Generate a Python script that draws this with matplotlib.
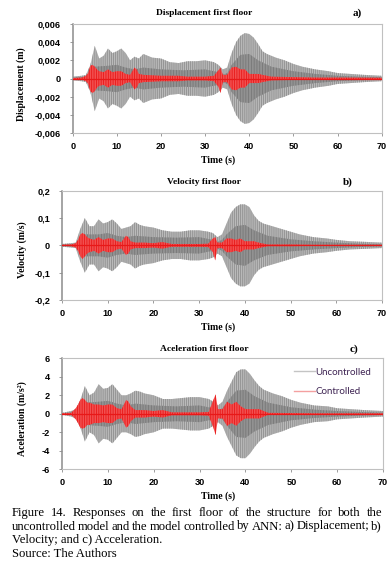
import matplotlib
matplotlib.use("Agg")
import matplotlib.pyplot as plt
import numpy as np

W, H = 392, 566

# ---------------- data (envelopes) ----------------
T = [0, 2, 3, 4, 5, 6, 7, 8, 9, 10, 11, 12, 13, 14, 15, 16, 17, 18, 20, 22, 24, 26,
     28, 30, 32, 33, 34, 35, 36, 37, 38, 39, 40, 41, 42, 43, 44, 46, 48, 50, 52, 55,
     58, 60, 63, 66, 70]
T_core = [0, 3, 4, 5, 8, 10, 12, 14, 16, 20, 25, 30, 33, 34, 35, 36, 38, 40, 42, 45,
          50, 55, 60, 65, 70]
Tc = [0, 2, 3, 3.5, 4, 4.5, 5, 5.5, 6, 7, 8, 9, 10, 11, 12, 13, 14, 14.5, 15, 16,
      18, 20, 22, 24, 26, 28, 30, 32, 33, 33.5, 34, 35, 36, 37, 38, 39, 40, 42, 43, 45,
      50, 55, 60, 70]

# displacement (m)
disp_unc = [0.0002, 0.0003, 0.0004, 0.0015, 0.0036, 0.0022, 0.0025, 0.0033, 0.0028, 0.0030,
            0.0033, 0.0028, 0.0020, 0.0024, 0.0022, 0.0027, 0.0025, 0.0023, 0.0022, 0.0018,
            0.0017, 0.0019, 0.0019, 0.0020, 0.0018, 0.0015, 0.0010, 0.0012, 0.0028, 0.0040,
            0.0047, 0.0050, 0.0049, 0.0045, 0.0038, 0.0030, 0.0027, 0.0023, 0.0020, 0.0016,
            0.0013, 0.0010, 0.0008, 0.0006, 0.0005, 0.0004, 0.0003]
disp_core = [0.0001, 0.0002, 0.0008, 0.0013, 0.0014, 0.0015, 0.0012, 0.0010, 0.0012, 0.0010,
             0.0009, 0.0010, 0.0007, 0.0004, 0.0006, 0.0015, 0.0026, 0.0027, 0.0020, 0.0013,
             0.0008, 0.0005, 0.0003, 0.0002, 0.00015]
disp_ctl_up = [0.00005, 0.0001, 0.0003, 0.0006, 0.0014, 0.0015, 0.0013, 0.0010, 0.0008, 0.0007,
               0.0010, 0.0007, 0.0008, 0.0008, 0.0005, 0.0004, 0.0012, 0.0010, 0.0005, 0.0004,
               0.00035, 0.0003, 0.0003, 0.0003, 0.0002, 0.0002, 0.0002, 0.0003, 0.0009, 0.0012,
               0.0004, 0.0004, 0.0012, 0.0013, 0.0010, 0.0010, 0.0005, 0.0005, 0.0004, 0.0002,
               0.00015, 0.0001, 0.0001, 0.00008]
disp_ctl_lo = [0.00005, 0.0001, 0.0003, 0.0006, 0.0014, 0.0016, 0.0014, 0.0010, 0.0008, 0.0007,
               0.0010, 0.0007, 0.0008, 0.0008, 0.0005, 0.0004, 0.0012, 0.0010, 0.0005, 0.0004,
               0.00035, 0.0003, 0.0003, 0.0003, 0.0002, 0.0002, 0.0002, 0.0003, 0.0009, 0.0016,
               0.0004, 0.0004, 0.0012, 0.0013, 0.0010, 0.0010, 0.0005, 0.0005, 0.0004, 0.0002,
               0.00015, 0.0001, 0.0001, 0.00008]

# velocity (m/s)
vel_unc = [0.005, 0.008, 0.010, 0.06, 0.10, 0.07, 0.07, 0.095, 0.08, 0.085,
           0.095, 0.08, 0.06, 0.065, 0.07, 0.085, 0.075, 0.07, 0.065, 0.055,
           0.05, 0.05, 0.055, 0.055, 0.05, 0.045, 0.03, 0.04, 0.08, 0.12,
           0.14, 0.15, 0.15, 0.14, 0.11, 0.09, 0.08, 0.07, 0.06, 0.05,
           0.04, 0.03, 0.025, 0.02, 0.015, 0.013, 0.010]
vel_core = [0.003, 0.005, 0.03, 0.04, 0.04, 0.045, 0.035, 0.03, 0.035, 0.03,
            0.028, 0.03, 0.02, 0.012, 0.02, 0.04, 0.07, 0.075, 0.055, 0.035,
            0.022, 0.015, 0.01, 0.006, 0.004]
vel_ctl_up = [0.002, 0.003, 0.008, 0.02, 0.04, 0.045, 0.04, 0.03, 0.025, 0.02,
              0.03, 0.02, 0.025, 0.025, 0.015, 0.012, 0.035, 0.03, 0.015, 0.010,
              0.010, 0.008, 0.012, 0.005, 0.005, 0.005, 0.005, 0.006, 0.025, 0.03,
              0.010, 0.010, 0.025, 0.025, 0.02, 0.025, 0.015, 0.015, 0.010, 0.003,
              0.003, 0.002, 0.002, 0.002]
vel_ctl_lo = [0.002, 0.003, 0.008, 0.02, 0.04, 0.05, 0.04, 0.03, 0.025, 0.02,
              0.03, 0.02, 0.025, 0.025, 0.015, 0.012, 0.035, 0.03, 0.015, 0.010,
              0.010, 0.008, 0.012, 0.005, 0.005, 0.005, 0.005, 0.006, 0.025, 0.055,
              0.010, 0.010, 0.025, 0.025, 0.02, 0.025, 0.015, 0.015, 0.010, 0.003,
              0.003, 0.002, 0.002, 0.002]

# acceleration (m/s2)
acc_unc = [0.1, 0.3, 0.5, 1.5, 3.0, 2.0, 2.3, 3.2, 2.7, 2.8,
           3.2, 2.6, 2.0, 2.0, 2.2, 2.5, 2.4, 2.2, 2.0, 1.6,
           1.6, 1.7, 1.8, 1.8, 1.6, 1.3, 0.9, 1.3, 2.5, 3.5,
           4.5, 4.8, 4.8, 4.3, 3.6, 3.0, 2.6, 2.2, 1.9, 1.5,
           1.2, 0.9, 0.8, 0.6, 0.5, 0.4, 0.3]
acc_core = [0.05, 0.2, 0.8, 1.2, 1.3, 1.4, 1.1, 0.9, 1.1, 0.9,
            0.8, 0.9, 0.6, 0.4, 0.6, 1.3, 2.5, 2.6, 1.9, 1.2,
            0.7, 0.45, 0.3, 0.2, 0.12]
acc_ctl_up = [0.05, 0.1, 0.6, 1.0, 1.5, 1.7, 1.5, 1.2, 1.2, 1.0,
              1.0, 0.9, 1.0, 1.0, 0.6, 0.5, 1.5, 1.3, 0.8, 0.4,
              0.4, 0.3, 0.4, 0.15, 0.15, 0.15, 0.15, 0.2, 1.5, 2.1,
              0.5, 0.5, 1.3, 1.0, 1.3, 0.8, 0.5, 0.5, 0.5, 0.1,
              0.08, 0.05, 0.05, 0.05]
acc_ctl_lo = [0.05, 0.1, 0.6, 1.0, 1.5, 1.6, 1.5, 1.2, 1.2, 1.0,
              1.0, 0.9, 1.0, 1.0, 0.6, 0.5, 1.5, 1.3, 0.8, 0.4,
              0.4, 0.3, 0.4, 0.15, 0.15, 0.15, 0.15, 0.2, 1.5, 2.3,
              0.5, 0.5, 1.3, 1.0, 1.3, 0.8, 0.5, 0.5, 0.5, 0.1,
              0.08, 0.05, 0.05, 0.05]

x_ticks = [0, 10, 20, 30, 40, 50, 60, 70]
disp_ticks = [-0.006, -0.004, -0.002, 0, 0.002, 0.004, 0.006]
disp_labels = ['-0,006', '-0,004', '-0,002', '0', '0,002', '0,004', '0,006']
vel_ticks = [-0.2, -0.1, 0, 0.1, 0.2]
vel_labels = ['-0,2', '-0,1', '0', '0,1', '0,2']
acc_ticks = [-6, -4, -2, 0, 2, 4, 6]
acc_labels = ['-6', '-4', '-2', '0', '2', '4', '6']

titles = ['Displacement first floor', 'Velocity first floor', 'Aceleration first floor']
letters = ['a)', 'b)', 'c)']
ylabels = ['Displacement (m)', 'Velocity (m/s)', 'Aceleration (m/s²)']
legend_labels = ['Uncontrolled', 'Controlled']

caption = [
    "Figure 14. Responses on the first floor of the structure for both the",
    "uncontrolled model and the model controlled by ANN: a) Displacement; b)",
    "Velocity; and c) Acceleration.",
    "Source: The Authors",
]

# ---------------- style ----------------
C_OUT = '#bababa'
C_OUT_H = '#8e8e8e'
C_CORE = '#929292'
C_CORE_H = '#777777'
C_RED_F = '#f25050'
C_RED = '#e81818'
FRAME = '#c0c0c0'
FRAME_L = '#8c8c8c'
SERIF = 'Liberation Serif'
SANS = 'Liberation Sans'
plt.rcParams['hatch.linewidth'] = 0.6

fig = plt.figure(figsize=(W / 100, H / 100), dpi=100)


def px(x, y):
    return x / W, 1 - y / H


def add_axes(l, r, t, b):
    return fig.add_axes([l / W, 1 - b / H, (r - l) / W, (b - t) / H])


panels = [
    dict(box=(72.7, 381.7, 24, 133), unc=disp_unc, core=disp_core, up=disp_ctl_up, lo=disp_ctl_lo,
         ticks=disp_ticks, labels=disp_labels, title_y=13, let_x=357, yl=(21, 84), xl_y=160),
    dict(box=(62, 382, 190.7, 300), unc=vel_unc, core=vel_core, up=vel_ctl_up, lo=vel_ctl_lo,
         ticks=vel_ticks, labels=vel_labels, title_y=181.7, let_x=348, yl=(22, 250), xl_y=327),
    dict(box=(62, 383, 358.3, 469.3), unc=acc_unc, core=acc_core, up=acc_ctl_up, lo=acc_ctl_lo,
         ticks=acc_ticks, labels=acc_labels, title_y=349, let_x=353.5, yl=(22, 419), xl_y=496),
]

for i, p in enumerate(panels):
    ax = add_axes(*p['box'])
    u = np.array(p['unc'])
    c = np.array(p['core'])
    ax.fill_between(T, -u, u, facecolor=C_OUT, edgecolor=C_OUT_H, hatch='||||||||', lw=0, zorder=1)
    ax.fill_between(T_core, -c, c, facecolor=C_CORE, edgecolor=C_CORE_H, hatch='||||||', lw=0, zorder=2)
    ax.fill_between(Tc, -np.array(p['lo']), np.array(p['up']), facecolor=C_RED_F,
                    edgecolor=C_RED, hatch='|||||||', lw=0, zorder=3)
    ax.plot([0, 70], [0, 0], color=C_RED, lw=0.9, zorder=4)
    ax.set_xlim(0, 70)
    ax.set_ylim(p['ticks'][0], p['ticks'][-1])
    ax.set_xticks(x_ticks)
    ax.set_xticklabels([str(v) for v in x_ticks])
    ax.set_yticks(p['ticks'])
    ax.set_yticklabels(p['labels'])
    for s in ax.spines.values():
        s.set_color(FRAME)
        s.set_linewidth(0.8)
    ax.spines['left'].set_color(FRAME_L)
    ax.spines['left'].set_linewidth(1.1)
    ax.tick_params(axis='both', length=2.5, width=0.6, color=FRAME_L, labelsize=6.6)
    ax.tick_params(axis='y', pad=6)
    ax.tick_params(axis='x', pad=4)
    for lab in ax.get_xticklabels() + ax.get_yticklabels():
        lab.set_fontfamily(SANS)
        lab.set_fontweight('bold')
    fig.text(*px(204, p['title_y']), titles[i], ha='center', va='center',
             family=SERIF, weight='bold', fontsize=6.8)
    fig.text(*px(p['let_x'], p['title_y']), letters[i], ha='center', va='center',
             family=SERIF, weight='bold', fontsize=8)
    fig.text(*px(*p['yl']), ylabels[i], ha='center', va='center', rotation=90,
             family=SERIF, weight='bold', fontsize=7)
    fig.text(*px(218, p['xl_y']), 'Time (s)', ha='center', va='center',
             family=SERIF, weight='bold', fontsize=7)
    if i == 2:
        h1, = ax.plot([], [], color='#c4c4c4', lw=1.0)
        h2, = ax.plot([], [], color='#f4a0a0', lw=1.0)
        leg = ax.legend([h1, h2], legend_labels, loc='upper right', frameon=False,
                        bbox_to_anchor=(0.99, 0.995), handlelength=2.2, handletextpad=0.0,
                        labelspacing=1.1, prop={'family': 'Lato', 'size': 7})
        for t in leg.get_texts():
            t.set_color('#3d2352')

# ---------------- caption (justified first two lines) ----------------
fig.canvas.draw()
renderer = fig.canvas.get_renderer()
cap_y = [512.7, 526.5, 540.3, 554]
x0, x1 = 12, 382
for li, line in enumerate(caption):
    if li < 2:
        words = line.split(' ')
        texts = [fig.text(0, 1 - cap_y[li] / H, w, ha='left', va='center',
                          family=SERIF, fontsize=9.1) for w in words]
        widths = [t.get_window_extent(renderer).width for t in texts]
        gap = (x1 - x0 - sum(widths)) / (len(words) - 1)
        x = x0
        for t, w in zip(texts, widths):
            t.set_x(x / W)
            x += w + gap
    else:
        fig.text(x0 / W, 1 - cap_y[li] / H, line, ha='left', va='center',
                 family=SERIF, fontsize=9.1)

fig.savefig('out.png', dpi=100)
